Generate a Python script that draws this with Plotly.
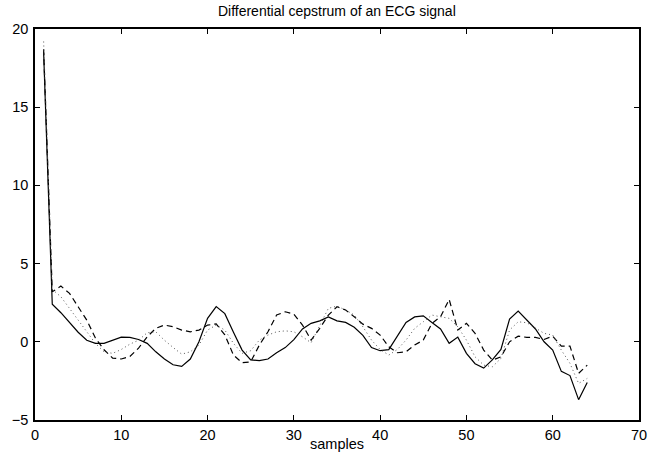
import plotly.graph_objects as go

samples = list(range(1, 65))

solid = [18.5, 2.4, 1.86, 1.24, 0.61, 0.1, -0.1, -0.1, 0.1, 0.3,
         0.28, 0.15, -0.1, -0.64, -1.1, -1.47, -1.57, -1.1, 0.0, 1.5,
         2.25, 1.8, 0.61, -0.53, -1.16, -1.2, -1.1, -0.7, -0.37, 0.14,
         0.82, 1.18, 1.34, 1.59, 1.34, 1.24, 0.93, 0.41, -0.37, -0.57,
         -0.5, 0.41, 1.24, 1.59, 1.66, 1.24, 0.82, -0.1, 0.3, -0.74,
         -1.4, -1.68, -1.16, -0.49, 1.45, 1.97, 1.39, 0.82, 0.0, -0.53,
         -1.89, -2.16, -3.7, -2.6]

dashed = [18.7, 3.2, 3.56, 3.1, 2.24, 1.39, 0.24, -0.51, -1.04, -1.1,
          -0.94, -0.4, 0.32, 0.86, 1.07, 0.96, 0.75, 0.64, 0.75, 1.07,
          1.14, 0.45, -0.85, -1.34, -1.28, -0.21, 0.64, 1.71, 1.92, 1.77,
          1.07, 0.11, 0.86, 1.71, 2.24, 2.03, 1.6, 1.13, 0.86, 0.43,
          -0.32, -0.7, -0.64, -0.21, 0.11, 1.18, 1.6, 2.71, 0.75, 1.18,
          0.54, -0.53, -1.17, -0.96, 0.0, 0.36, 0.28, 0.28, 0.15, 0.36,
          -0.28, -0.28, -2.02, -1.49]

dotted = [19.2, 3.35, 2.88, 2.13, 1.39, 0.64, -0.1, -0.64, -0.74, -0.49,
          -0.15, 0.1, 0.58, 0.64, 0.1, -0.36, -0.79, -0.64, -0.21, 0.75,
          1.07, 0.75, -0.1, -0.74, -0.57, 0.11, 0.43, 0.64, 0.7, 0.64,
          0.32, -0.06, 1.07, 2.14, 2.28, 2.03, 1.71, 0.96, 0.11, -0.49,
          -0.85, -0.49, 0.11, 0.86, 1.28, 1.71, 1.6, 1.5, 0.96, 0.11,
          -0.96, -1.49, -1.6, -1.06, 0.75, 1.28, 1.22, 0.86, 0.54, 0.43,
          -0.53, -1.38, -2.66, -2.34]

x_ticks = [0, 10, 20, 30, 40, 50, 60, 70]
y_ticks = [-5, 0, 5, 10, 15, 20]

FONT = "Liberation Sans, Arial, Helvetica, sans-serif"

fig = go.Figure()
fig.add_trace(go.Scatter(x=samples, y=solid, mode="lines",
                         line=dict(color="black", width=1.2, dash="solid")))
fig.add_trace(go.Scatter(x=samples, y=dashed, mode="lines",
                         line=dict(color="black", width=1.2, dash="6px,4px")))
fig.add_trace(go.Scatter(x=samples, y=dotted, mode="lines",
                         line=dict(color="#555555", width=1, dash="1px,3px")))

axis_common = dict(showline=True, linecolor="black", linewidth=1.5, mirror="ticks",
                   ticks="inside", ticklen=5, tickcolor="black", tickwidth=1,
                   showgrid=False, zeroline=False, automargin=False,
                   tickfont=dict(family=FONT, size=14.5, color="black"))

fig.update_xaxes(range=[0, 70], tickvals=x_ticks, ticktext=[str(v) for v in x_ticks],
                 ticklabelstandoff=1, **axis_common)
fig.update_yaxes(range=[-5, 20], tickvals=y_ticks,
                 ticktext=["\u22125" if v == -5 else str(v) for v in y_ticks],
                 ticklabelstandoff=2, **axis_common)

fig.add_annotation(text="samples", xref="paper", yref="paper", x=0.5, y=0,
                   yshift=-24, xanchor="center", yanchor="middle", showarrow=False,
                   font=dict(family=FONT, size=14.5, color="black"))

fig.update_layout(
    width=671, height=453,
    margin=dict(l=35, r=32, t=29, b=33),
    paper_bgcolor="white", plot_bgcolor="white",
    showlegend=False,
    title=dict(text="Differential cepstrum of an ECG signal", x=0.502, xanchor="center",
               y=1 - 11 / 453, yanchor="middle",
               font=dict(family=FONT, size=14, color="black")),
)

fig.write_html("out.html",
               config={"displayModeBar": False},
               post_script="document.body.style.margin='0';document.body.style.overflow='hidden';")
